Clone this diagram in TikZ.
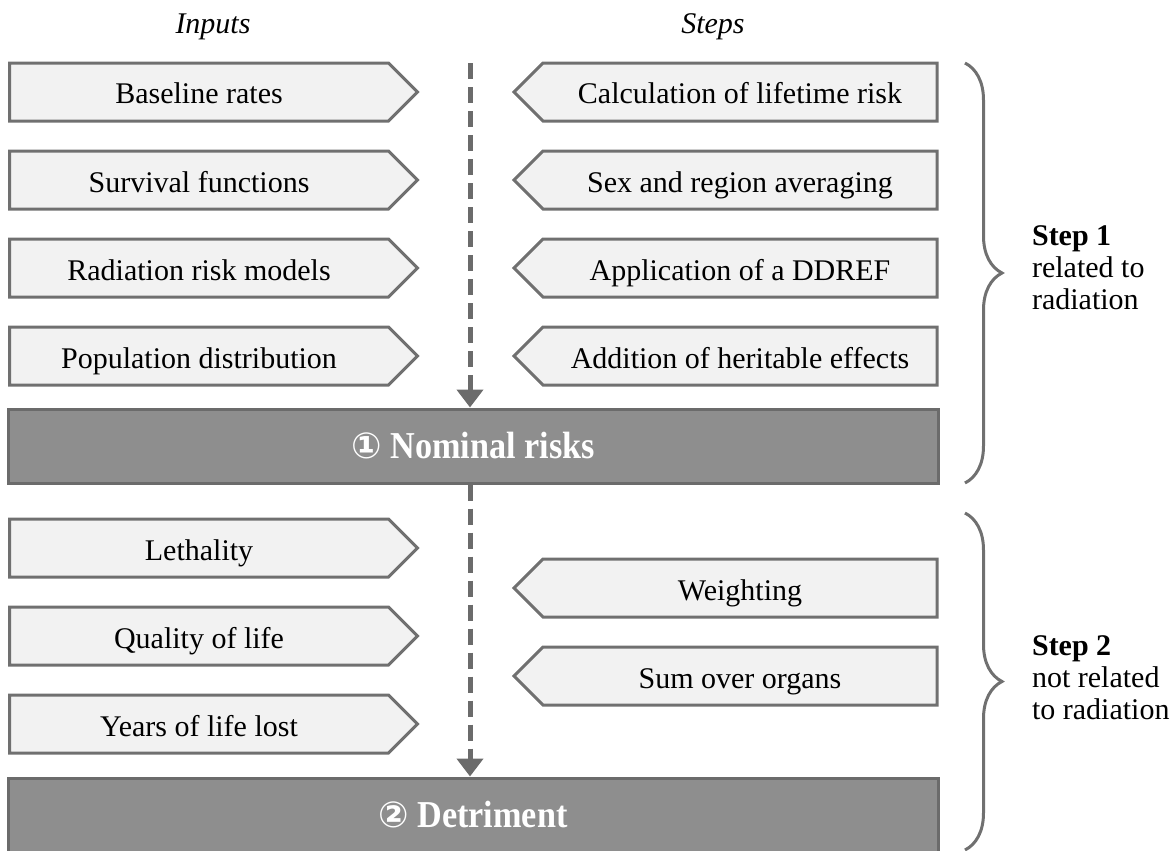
\documentclass[tikz,border=0pt]{standalone}
\usepackage{fontspec}
\setmainfont{Liberation Serif}
\newfontfamily\barfont[FakeStretch=0.9]{Liberation Serif}
\newfontfamily\circfont{DejaVu Sans}
\usepackage{tikz}
\usetikzlibrary{arrows.meta}
\usetikzlibrary{positioning}
\usetikzlibrary{shapes.symbols}
\usetikzlibrary{decorations.pathreplacing}
\definecolor{boxfill}{HTML}{F2F2F2}
\definecolor{boxline}{HTML}{707070}
\definecolor{barfill}{HTML}{8E8E8E}
\definecolor{barline}{HTML}{6B6B6B}

\begin{document}
\begin{tikzpicture}[x=0.5pt, y=-0.5pt, node distance=44pt, font=\fontsize{15}{17}\selectfont]
\tikzstyle{input} = [shape=signal, signal to=east, signal pointer angle=90, draw=boxline, fill=boxfill, line width=1.5pt, minimum width=204pt, minimum height=29pt, inner sep=0pt, text height=12.5pt, text depth=0.5pt]
\tikzstyle{stepbox} = [shape=signal, signal to=west, signal pointer angle=90, draw=boxline, fill=boxfill, line width=1.5pt, minimum width=211.5pt, minimum height=29pt, inner sep=0pt, text height=12.5pt, text depth=0.5pt]
\tikzstyle{bar} = [draw=barline, fill=barfill, line width=1.5pt, minimum width=465pt, minimum height=37pt, text=white, font=\fontsize{19}{21}\barfont\bfseries]
\tikzstyle{flow} = [draw=barline, line width=2.5pt, dash pattern=on 8pt off 4pt, -{Triangle[width=13pt,length=9pt]}]
\tikzstyle{bracket} = [draw=boxline, line width=1.5pt, decorate, decoration={brace, amplitude=18.5pt}]

\useasboundingbox (0,0) rectangle (1175,851);

\node[font=\fontsize{15}{17}\selectfont\itshape] (inputs) at (213,27) {Inputs};
\node[font=\fontsize{15}{17}\selectfont\itshape] (steps) at (713,27) {Steps};

% step 1
\node[input] (base) at (199,92) {Baseline rates};
\node[input] (surv)[below of=base] {Survival functions};
\node[input] (model)[below of=surv] {Radiation risk models};
\node[input] (popu)[below of=model] {Population distribution};

\node[stepbox] (life) at (740,92) {Calculation of lifetime risk};
\node[stepbox] (avg)[below of=life] {Sex and region averaging};
\node[stepbox] (ddref)[below of=avg] {Application of a DDREF};
\node[stepbox] (herit)[below of=ddref] {Addition of heritable effects};

\node[bar] (nominal) at (473,446) {{\circfont\fontsize{18}{20}\selectfont ①} Nominal risks};

% step 2
\node[input] (leth) at (199,548) {Lethality};
\node[input] (qual)[below of=leth] {Quality of life};
\node[input] (years)[below of=qual] {Years of life lost};

\node[stepbox] (weight) at (740,588) {Weighting};
\node[stepbox] (sum)[below of=weight] {Sum over organs};

\node[bar] (detr) at (473,815) {{\circfont\fontsize{18}{20}\selectfont ②} Detriment};

\coordinate (top) at (470,63);
\draw[flow] (top) -- (top |- nominal.north);
\draw[flow] (nominal.south -| top) -- (top |- detr.north);

\coordinate (b1) at (965,63);
\coordinate (b2) at (965,483);
\coordinate (b3) at (965,513);
\coordinate (b4) at (965,850);
\draw[bracket] (b1) -- (b2);
\draw[bracket] (b3) -- (b4);

\node[anchor=west, align=left, font=\fontsize{15}{16}\selectfont] (step1) at (1025,268) {\textbf{Step 1}\\related to\\radiation};
\node[anchor=west, align=left, font=\fontsize{15}{16}\selectfont] (step2) at (1025,678) {\textbf{Step 2}\\not related\\to radiation};

\end{tikzpicture}
\end{document}
